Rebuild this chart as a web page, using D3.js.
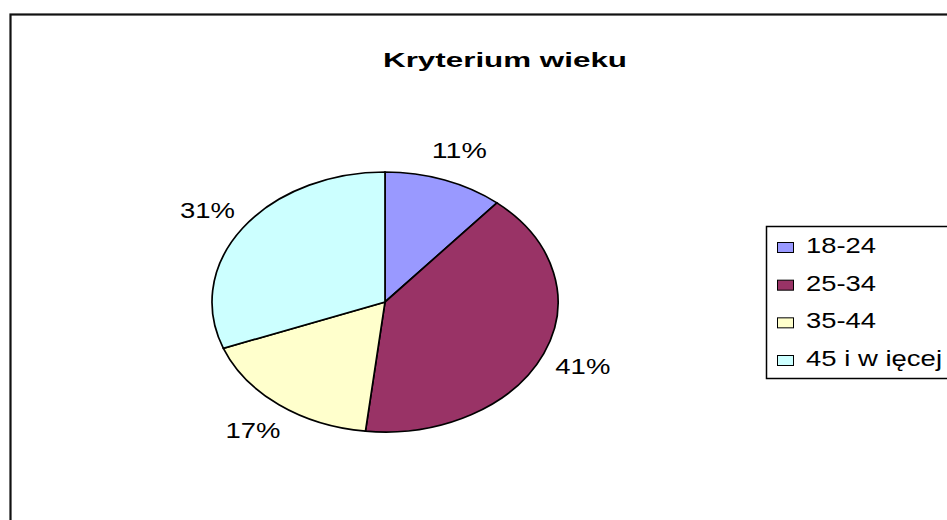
<!DOCTYPE html>
<html>
<head>
<meta charset="utf-8">
<script src="https://cdn.jsdelivr.net/npm/d3@7/dist/d3.min.js"></script>
<style>
  body { margin: 0; background: #fff; }
  text { font-family: Arial, "Liberation Sans", sans-serif; fill: #000; }
</style>
</head>
<body>
<div id="chart"></div>
<script>
const categories = ['18-24', '25-34', '35-44', '45 i w ięcej'];
// shares; labels show them rounded
const values = [11.2, 40.6, 17.4, 30.8];
const colors = ['#9999FF', '#993366', '#FFFFCC', '#CCFFFF'];
const chartTitle = 'Kryterium wieku';

const width = 947, height = 520;

const svg = d3.select('#chart').append('svg')
	.attr('width', width)
	.attr('height', height);

// outer frame, runs off right and bottom edges
svg.append('rect')
	.attr('x', 10.5).attr('y', 14.5)
	.attr('width', 960).attr('height', 540)
	.attr('fill', 'none')
	.attr('stroke', '#111')
	.attr('stroke-width', 2.2);

svg.append('text')
	.attr('x', 505).attr('y', 67)
	.attr('text-anchor', 'middle')
	.attr('font-size', 20.5)
	.attr('font-weight', 'bold')
	.attr('textLength', 244)
	.attr('lengthAdjust', 'spacingAndGlyphs')
	.text(chartTitle);

// pie is drawn as circle then stretched into an ellipse
const ry = 130, rx = 173, sx = rx / ry;
const data = categories.map((c, i) => ({cat: c, value: values[i], color: colors[i]}));
const total = d3.sum(values);
const pct = d3.format('.0%');

const pie = d3.pie().sort(null).value(d => d.value);
const arcs = pie(data);

const arcFn = d3.arc().innerRadius(0).outerRadius(ry);
const labelArc = d3.arc().innerRadius(162).outerRadius(162);

const g = svg.append('g').attr('transform', 'translate(385,302)');

g.append('g')
	.attr('transform', `scale(${sx},1)`)
	.selectAll('path')
	.data(arcs)
	.enter()
	.append('path')
	.attr('d', arcFn)
	.attr('fill', d => d.data.color)
	.attr('stroke', '#000')
	.attr('stroke-width', 1.7)
	.attr('vector-effect', 'non-scaling-stroke');

g.selectAll('.sliceLabel')
	.data(arcs)
	.enter()
	.append('text')
	.attr('class', 'sliceLabel')
	.attr('x', d => labelArc.centroid(d)[0] * sx)
	.attr('y', d => labelArc.centroid(d)[1])
	.attr('dy', '0.36em')
	.attr('text-anchor', 'middle')
	.attr('font-size', 21.5)
	.attr('textLength', 55)
	.attr('lengthAdjust', 'spacingAndGlyphs')
	.text(d => pct(d.data.value / total));

// legend
const legend = svg.append('g');
legend.append('rect')
	.attr('x', 766.5).attr('y', 226.5)
	.attr('width', 200).attr('height', 152)
	.attr('fill', '#fff')
	.attr('stroke', '#000')
	.attr('stroke-width', 1.5);

const rowY = d3.scalePoint().domain(categories).range([247, 360]);
const legendWidths = [70, 70, 70, 136];

const items = legend.selectAll('.legendItem')
	.data(data)
	.enter()
	.append('g')
	.attr('class', 'legendItem')
	.attr('transform', d => `translate(0,${rowY(d.cat)})`);

items.append('rect')
	.attr('x', 777.5).attr('y', -4.5)
	.attr('width', 16).attr('height', 10)
	.attr('fill', d => d.color)
	.attr('stroke', '#000')
	.attr('stroke-width', 1);

items.append('text')
	.attr('x', 806)
	.attr('y', 6)
	.attr('font-size', 21.5)
	.attr('textLength', (d, i) => legendWidths[i])
	.attr('lengthAdjust', 'spacingAndGlyphs')
	.text(d => d.cat);
</script>
</body>
</html>
